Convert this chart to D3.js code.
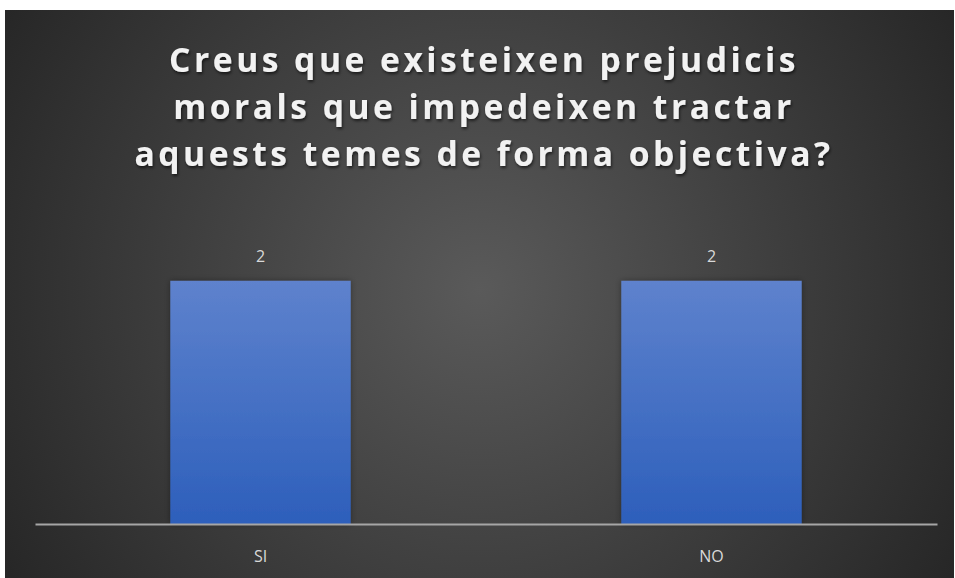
<!DOCTYPE html>
<html><head><meta charset="utf-8">
<script src="https://cdn.jsdelivr.net/npm/d3@7"></script>
<style>html,body{margin:0;padding:0;background:#fff;}svg{display:block;}</style>
</head><body>
<script>
const categories = ["SI", "NO"];
const values = [2, 2];
const titleLines = ["Creus que existeixen prejudicis", "morals que impedeixen tractar", "aquests temes de forma objectiva?"];

const W = 955, H = 578;
const svg = d3.select("body").append("svg").attr("width", W).attr("height", H);
const defs = svg.append("defs");
const rg = defs.append("radialGradient").attr("id", "bg").attr("gradientUnits", "userSpaceOnUse")
  .attr("cx", 480).attr("cy", 290).attr("r", 560);
rg.append("stop").attr("offset", "0").attr("stop-color", "#5a5a5a");
rg.append("stop").attr("offset", "1").attr("stop-color", "#262626");
const lg = defs.append("linearGradient").attr("id", "bar").attr("x1", 0).attr("y1", 0).attr("x2", 0).attr("y2", 1);
lg.append("stop").attr("offset", "0").attr("stop-color", "#5e82cd");
lg.append("stop").attr("offset", "1").attr("stop-color", "#2d5fbb");
const f = defs.append("filter").attr("id", "ts").attr("x", "-10%").attr("y", "-30%").attr("width", "120%").attr("height", "160%");
f.append("feDropShadow").attr("dx", 1).attr("dy", 2).attr("stdDeviation", 1.5).attr("flood-color", "#000").attr("flood-opacity", 0.6);
const fb = defs.append("filter").attr("id", "bs").attr("x", "-20%").attr("y", "-10%").attr("width", "140%").attr("height", "120%");
fb.append("feDropShadow").attr("dx", 0).attr("dy", 0).attr("stdDeviation", 3).attr("flood-color", "#000").attr("flood-opacity", 0.35);

svg.append("rect").attr("x", 5).attr("y", 10).attr("width", 949).attr("height", 568).attr("fill", "url(#bg)");

const title = svg.append("g").attr("filter", "url(#ts)");
const cx = 484;
const tl = title.selectAll("text").data(titleLines).join("text")
  .attr("x", 0).attr("y", 0)
  .attr("text-anchor", "middle").attr("fill", "#f2f2f2")
  .style("font-family", "'Open Sans', sans-serif").style("font-weight", "bold")
  .style("font-size", "34px").style("letter-spacing", "3.5px")
  .text(d => d);
const w3 = tl.nodes()[2].getComputedTextLength();
const sx = 699 / w3;
tl.attr("transform", (d, i) => `translate(${cx},${72 + i * 47}) scale(${sx},1)`);

const x = d3.scaleBand().domain(categories).range([35, 937]).paddingInner(0.6).paddingOuter(0.3);
const y = d3.scaleLinear().domain([0, 2.5]).range([524, 220]);

svg.append("g").selectAll("rect").data(values).join("rect")
  .attr("x", (d, i) => x(categories[i])).attr("width", x.bandwidth())
  .attr("y", d => y(d)).attr("height", d => y(0) - y(d))
  .attr("fill", "url(#bar)").attr("filter", "url(#bs)");

svg.append("g").selectAll("text").data(values).join("text")
  .attr("x", (d, i) => x(categories[i]) + x.bandwidth() / 2).attr("y", d => y(d) - 19)
  .attr("text-anchor", "middle").attr("fill", "#d9d9d9")
  .style("font-family", "'Open Sans', sans-serif").style("font-size", "16px")
  .text(d => d);

const ax = svg.append("g").attr("transform", `translate(0,${y(0)})`)
  .call(d3.axisBottom(x).tickSize(0).tickPadding(27));
ax.select(".domain").attr("stroke", "#a6a6a6").attr("stroke-width", 2);
ax.selectAll("text").attr("fill", "#d9d9d9").style("font-family", "'Open Sans', sans-serif").style("font-size", "16px");
</script>
</body></html>
